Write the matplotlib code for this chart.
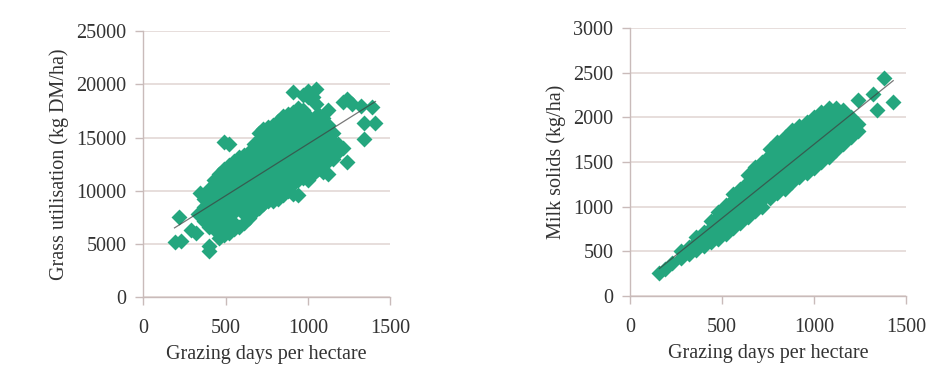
import matplotlib
matplotlib.use("Agg")
import matplotlib.pyplot as plt
import numpy as np

# grass utilisation: one x column per entry, with the y values read in that column
GRASS_X = [190, 230, 215, 290, 320, 330, 345, 370, 400, 430, 460, 490, 520, 550, 580,
           610, 640, 670, 700, 730, 760, 790, 820, 850, 880, 910, 940, 970, 1000, 1030,
           1050, 1060, 1090, 1120, 1150, 1180, 1210, 1240, 1270, 1320, 1340, 1390, 1410]
GRASS_Y = [
    [5200], [5300], [7500], [6300], [6000], [7800], [9800],
    [7200, 8500, 9200],
    [4300, 4800, 6600, 7600, 8800, 9600, 10200],
    [6400, 7200, 8000, 8800, 9600, 10400, 11000],
    [5600, 6200, 7000, 7800, 8600, 9400, 10200, 11000, 11600],
    [5800, 6600, 7400, 8200, 9000, 9800, 10600, 11400, 12000, 14600],
    [6000, 6800, 7600, 8400, 9200, 10000, 10800, 11600, 12400, 14400],
    [6400, 7000, 8000, 8800, 9600, 10400, 11200, 12000, 12800],
    [6600, 8400, 9200, 10000, 10800, 11600, 12400, 13200],
    [7000, 7800, 8600, 9400, 10200, 11000, 11800, 12600, 13400],
    [7400, 8200, 9000, 9800, 10600, 11400, 12200, 13000, 13600],
    [8000, 8800, 9600, 10400, 11200, 12000, 12800, 13600, 14400],
    [8400, 9200, 10000, 10800, 11600, 12400, 13200, 14000, 14800, 15400],
    [8800, 9600, 10400, 11200, 12000, 12800, 13600, 14400, 15200, 15800],
    [9000, 9800, 10600, 11400, 12200, 13000, 13800, 14600, 15400, 16000],
    [9000, 10200, 11000, 11800, 12600, 13400, 14200, 15000, 15800, 16200],
    [9200, 10400, 11200, 12000, 12800, 13600, 14400, 15200, 16000, 16600],
    [9600, 10600, 11400, 12200, 13000, 13800, 14600, 15400, 16200, 17000],
    [10000, 10800, 11600, 12400, 13200, 14000, 14800, 15600, 16400, 17200],
    [9700, 10600, 11600, 12400, 13200, 14000, 14800, 15600, 16400, 17400, 19300],
    [9600, 11000, 11800, 12600, 13400, 14200, 15000, 15800, 16600, 17800],
    [11200, 12000, 12800, 13600, 14400, 15200, 16000, 16800, 17600, 19000],
    [11000, 12200, 13000, 13800, 14600, 15400, 16200, 17000, 18800, 19400],
    [11600, 12400, 13200, 14000, 14800, 15600, 16400, 18800],
    [19600, 18200],
    [12000, 12800, 13600, 14400, 15200, 16000, 17200],
    [11800, 12600, 13400, 14200, 15000, 15800, 16800],
    [11600, 12800, 13600, 14400, 15200, 16200, 17600],
    [13000, 13800, 14600, 15400],
    [13600, 14400],
    [14000, 18300],
    [12700, 18600],
    [18200], [18000], [14900, 16400], [17900], [16400],
]

# milk solids, same layout
MILK_X = [160, 190, 230, 280, 320, 360, 400, 440, 480, 520, 560, 600, 640, 680, 720,
          760, 800, 840, 880, 920, 960, 1000, 1040, 1080, 1120, 1160, 1200, 1240,
          1320, 1340, 1380, 1430]
MILK_Y = [
    [260], [300], [370],
    [430, 500],
    [470, 550],
    [520, 600, 660],
    [560, 640, 720],
    [600, 680, 760, 840],
    [640, 720, 800, 880, 940],
    [700, 780, 860, 940, 1020],
    [760, 840, 920, 1000, 1080, 1140],
    [820, 900, 980, 1060, 1140, 1200],
    [880, 960, 1040, 1120, 1200, 1280, 1360],
    [950, 1030, 1110, 1190, 1270, 1350, 1450],
    [1000, 1080, 1160, 1240, 1320, 1400, 1500],
    [1100, 1180, 1260, 1340, 1420, 1500, 1580, 1650],
    [1150, 1230, 1310, 1390, 1470, 1550, 1630, 1720],
    [1200, 1280, 1360, 1440, 1520, 1600, 1680, 1780],
    [1280, 1360, 1440, 1520, 1600, 1680, 1760, 1860],
    [1330, 1410, 1490, 1570, 1650, 1730, 1810, 1900],
    [1380, 1460, 1540, 1620, 1700, 1780, 1860, 1950],
    [1430, 1510, 1590, 1670, 1750, 1830, 1910, 2010],
    [1500, 1580, 1660, 1740, 1820, 1900, 1980, 2060],
    [1560, 1640, 1720, 1800, 1880, 1960, 2040, 2110],
    [1640, 1720, 1800, 1880, 1960, 2040, 2110],
    [1700, 1780, 1860, 1940, 2020, 2080],
    [1780, 1860, 1940, 2000],
    [1850, 1930, 2190],
    [2260], [2080], [2440], [2170],
]

X_TICKS = [0, 500, 1000, 1500]
GRASS_TICKS = [0, 5000, 10000, 15000, 20000, 25000]
MILK_TICKS = [0, 500, 1000, 1500, 2000, 2500, 3000]

GREEN = "#24A67E"
AXIS = "#C9BBBA"
GRID = "#E3D8D6"
TEXT = "#333333"


def flatten(xs, ys):
    px, py = [], []
    for x, col in zip(xs, ys):
        for y in col:
            px.append(x)
            py.append(y)
    return np.array(px, float), np.array(py, float)


def draw(ax, xs, ys, yticks, ylabel):
    x, y = flatten(xs, ys)
    ax.scatter(x, y, marker="D", s=66, color=GREEN, linewidths=0, zorder=3)
    k, b = np.polyfit(x, y, 1)
    lx = np.array([x.min(), x.max()])
    ax.plot(lx, k * lx + b, color="#3E3E3E", linewidth=0.9, alpha=0.7, zorder=4)
    ax.set_xlim(0, 1500)
    ax.set_ylim(0, yticks[-1])
    ax.set_xticks(X_TICKS)
    ax.set_yticks(yticks)
    ax.grid(axis="y", color=GRID, linewidth=1.2)
    ax.set_axisbelow(True)
    for side in ("top", "right"):
        ax.spines[side].set_visible(False)
    for side in ("left", "bottom"):
        ax.spines[side].set_color(AXIS)
        ax.spines[side].set_linewidth(1.0)
    ax.tick_params(colors=AXIS, labelcolor=TEXT, labelsize=14.5, length=6, width=1)
    ax.tick_params(axis="x", pad=10)
    ax.tick_params(axis="y", pad=6)
    ax.set_xlabel("Grazing days per hectare", fontsize=14.5, color=TEXT, labelpad=5)
    ax.set_ylabel(ylabel, fontsize=14.5, color=TEXT, labelpad=5)


plt.rcParams["font.family"] = ["Liberation Serif", "DejaVu Serif"]
fig = plt.figure(figsize=(9.36, 3.8), dpi=100)
ax1 = fig.add_axes([0.153, 0.218, 0.264, 0.700])
ax2 = fig.add_axes([0.673, 0.221, 0.295, 0.705])
draw(ax1, GRASS_X, GRASS_Y, GRASS_TICKS, "Grass utilisation (kg DM/ha)")
draw(ax2, MILK_X, MILK_Y, MILK_TICKS, "Milk solids (kg/ha)")
fig.savefig("out.png", dpi=100, facecolor="white")
